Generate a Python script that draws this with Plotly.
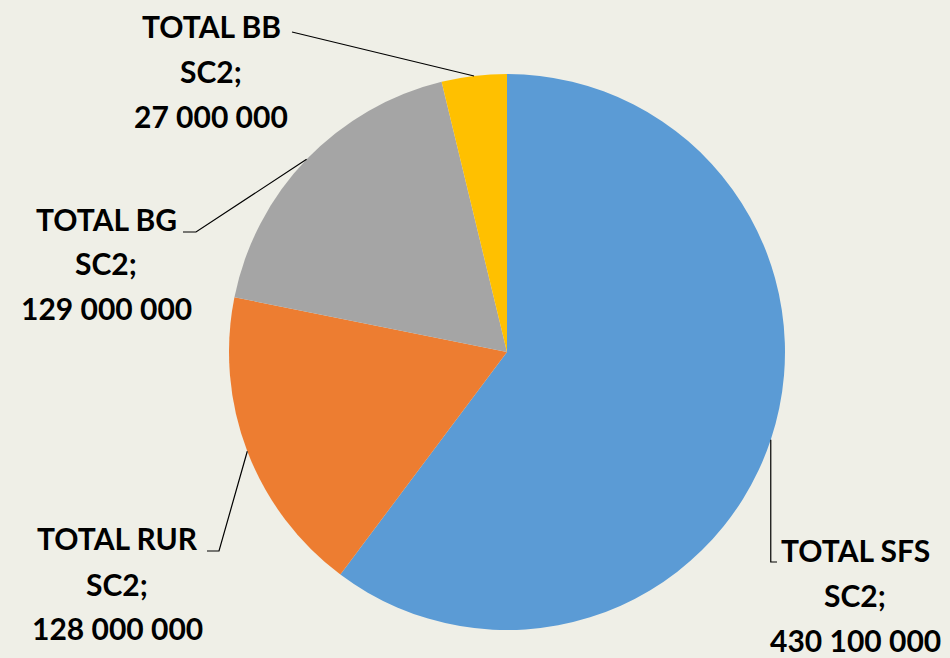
import math
import plotly.graph_objects as go

# ---- data ----
categories = ["TOTAL SFS", "TOTAL RUR", "TOTAL BG", "TOTAL BB"]
series_name = "SC2"
values = [430100000, 128000000, 129000000, 27000000]
colors = ["#5B9BD5", "#ED7D31", "#A5A5A5", "#FFC000"]

# ---- layout helpers (pixels) ----
W, H = 950, 658
CX, CY, R = 507, 352, 278


def px(x):
    return x / W


def py(y):
    return 1 - y / H


def fmt(v):
    return f"{v:,}".replace(",", " ")


fig = go.Figure()
fig.add_trace(go.Pie(
    labels=categories,
    values=values,
    sort=False,
    direction="clockwise",
    rotation=0,
    marker=dict(colors=colors, line=dict(width=0)),
    textinfo="none",
    hoverinfo="label+value",
    showlegend=False,
    domain=dict(x=[px(CX - R), px(CX + R)], y=[py(CY + R), py(CY - R)]),
))

# label placement (line centres, pixels) and leader-line elbows
label_pos = {
    "TOTAL SFS": dict(x=855, ys=[550, 595, 640], elbow="down", end=(777, 562)),
    "TOTAL RUR": dict(x=117, ys=[538, 584, 628], elbow="side", end=(207, 551), knee=(219, 551)),
    "TOTAL BG": dict(x=106, ys=[219, 263, 308], elbow="side", end=(183, 232), knee=(196, 232)),
    "TOTAL BB": dict(x=211, ys=[26, 71, 116], elbow="none", end=(292, 32)),
}

total = sum(values)
cum = 0.0
shapes = []
annotations = []
font = dict(family="Lato, Carlito, Calibri, sans-serif", size=30, color="#000000", weight="bold")
for cat, val in zip(categories, values):
    mid = (cum + val / 2) / total * 2 * math.pi
    cum += val
    ax = CX + R * math.sin(mid)
    ay = CY - R * math.cos(mid)
    lp = label_pos[cat]
    lines = [cat, f"{series_name};", fmt(val)]
    for txt, yy in zip(lines, lp["ys"]):
        annotations.append(dict(
            x=px(lp["x"]), y=py(yy), xref="paper", yref="paper",
            text=txt, showarrow=False, font=font,
            xanchor="center", yanchor="middle",
        ))
    ex, ey = lp["end"]
    if lp["elbow"] == "down":
        path = f"M {px(ax)} {py(ay)} L {px(ax)} {py(ey)} L {px(ex)} {py(ey)}"
    elif lp["elbow"] == "side":
        kx, ky = lp["knee"]
        path = f"M {px(ax)} {py(ay)} L {px(kx)} {py(ky)} L {px(ex)} {py(ey)}"
    else:
        path = f"M {px(ax)} {py(ay)} L {px(ex)} {py(ey)}"
    shapes.append(dict(type="path", xref="paper", yref="paper", path=path,
                       line=dict(color="#000000", width=1.2)))

fig.update_layout(
    width=W, height=H,
    margin=dict(l=0, r=0, t=0, b=0),
    paper_bgcolor="#EFEFE7",
    plot_bgcolor="#EFEFE7",
    shapes=shapes,
    annotations=annotations,
)

fig.write_html("out.html")
